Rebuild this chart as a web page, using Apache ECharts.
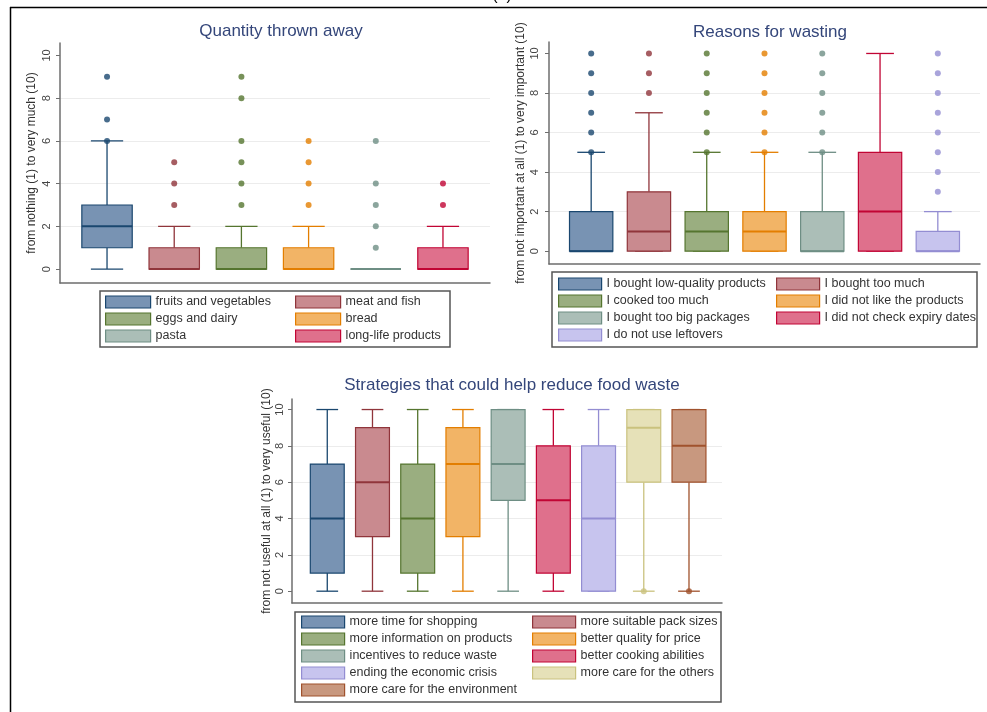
<!DOCTYPE html>
<html>
<head>
<meta charset="utf-8">
<script src="https://cdn.jsdelivr.net/npm/echarts@6/dist/echarts.min.js"></script>
<style>
html,body{margin:0;padding:0;background:#fff;}
#main{width:987px;height:712px;}
</style>
</head>
<body>
<div id="main"></div>
<script>
// ---------- DATA ----------
const yTicks = [0, 2, 4, 6, 8, 10];
const panelLabel = '(a)';

const qtyTitle = 'Quantity thrown away';
const qtyAxisName = 'from nothing (1) to very much (10)';
const qtyCategories = ['fruits and vegetables', 'meat and fish', 'eggs and dairy', 'bread', 'pasta', 'long-life products'];
// [min, Q1, median, Q3, max]
const qtyBoxStats = [[0,1,2,3,6],[0,0,0,1,2],[0,0,0,1,2],[0,0,0,1,2],[0,0,0,0,0],[0,0,0,1,2]];
// [category index, value]
const qtyOutliers = [[0,6],[0,7],[0,9],[1,3],[1,4],[1,5],[2,3],[2,4],[2,5],[2,6],[2,8],[2,9],
  [3,3],[3,4],[3,5],[3,6],[4,1],[4,2],[4,3],[4,4],[4,6],[5,3],[5,4]];

const reasonTitle = 'Reasons for wasting';
const reasonAxisName = 'from not important at all (1) to very important (10)';
const reasonCategories = ['I bought low-quality products', 'I bought too much', 'I cooked too much',
  'I did not like the products', 'I bought too big packages', 'I did not check expiry dates', 'I do not use leftovers'];
const reasonBoxStats = [[0,0,0,2,5],[0,0,1,3,7],[0,0,1,2,5],[0,0,1,2,5],[0,0,0,2,5],[0,0,2,5,10],[0,0,0,1,2]];
const reasonOutliers = [[0,5],[0,6],[0,7],[0,8],[0,9],[0,10],[1,8],[1,9],[1,10],
  [2,5],[2,6],[2,7],[2,8],[2,9],[2,10],[3,5],[3,6],[3,7],[3,8],[3,9],[3,10],
  [4,5],[4,6],[4,7],[4,8],[4,9],[4,10],[6,3],[6,4],[6,5],[6,6],[6,7],[6,8],[6,9],[6,10]];

const strategyTitle = 'Strategies that could help reduce food waste';
const strategyAxisName = 'from not useful at all (1) to very useful (10)';
const strategyCategories = ['more time for shopping', 'more suitable pack sizes', 'more information on products',
  'better quality for price', 'incentives to reduce waste', 'better cooking abilities', 'ending the economic crisis',
  'more care for the others', 'more care for the environment'];
const strategyBoxStats = [[0,1,4,7,10],[0,3,6,9,10],[0,1,4,7,10],[0,3,7,9,10],[0,5,7,10,10],[0,1,5,8,10],
  [0,0,4,8,10],[0,6,9,10,10],[0,6,8,10,10]];
const strategyOutliers = [[7,0],[8,0]];

// ---------- STYLE ----------
const strokeColors = ['#1a476f','#90353b','#55752f','#e37e00','#6e8e84','#c10534','#938dd2','#cac27e','#a0522d'];
const fillColors   = ['#7893b3','#c98a8f','#9aae80','#f2b466','#abbeb7','#df708c','#c7c4ee','#e6e1b8','#c8987f'];
const FONT = '"Liberation Sans", Arial, Helvetica, sans-serif';

const panels = [
  { title: qtyTitle, titleX: 281, titleY: 31, axisName: qtyAxisName, cats: qtyCategories, stats: qtyBoxStats, out: qtyOutliers,
    grid: {left: 60, top: 43, width: 430, height: 240}, xRange: [-0.7, 5.7], nameGap: 22, labelMargin: 8,
    legendCols: [105, 295], legendTop: 295, iconW: 45, frame: [100, 291, 350, 56] },
  { title: reasonTitle, titleX: 770, titleY: 32, axisName: reasonAxisName, cats: reasonCategories, stats: reasonBoxStats, out: reasonOutliers,
    grid: {left: 549, top: 42, width: 431, height: 222}, xRange: [-0.73, 6.73], nameGap: 22, labelMargin: 9,
    legendCols: [558, 776], legendTop: 277, iconW: 43, frame: [552, 272, 425, 75] },
  { title: strategyTitle, titleX: 512, titleY: 385, axisName: strategyAxisName, cats: strategyCategories, stats: strategyBoxStats, out: strategyOutliers,
    grid: {left: 292, top: 399, width: 430, height: 204}, xRange: [-0.78, 8.73], nameGap: 19, labelMargin: 7,
    legendCols: [301, 532], legendTop: 615, iconW: 43, frame: [295, 612, 426, 90] }
];

function makeRender(stroke, fill) {
  const boxRatio = 0.75, capRatio = 0.64;
  return function (params, api) {
    const x = api.value(0);
    const cMin = api.coord([x, api.value(1)]);
    const cQ1 = api.coord([x, api.value(2)]);
    const cMed = api.coord([x, api.value(3)]);
    const cQ3 = api.coord([x, api.value(4)]);
    const cMax = api.coord([x, api.value(5)]);
    const unit = api.size([1, 0])[0];
    const bw = unit * boxRatio, cw = bw * capRatio, cx = cMin[0];
    const ls = {stroke: stroke, lineWidth: 1.3};
    return {type: 'group', children: [
      {type: 'line', shape: {x1: cx, y1: cMax[1], x2: cx, y2: cQ3[1]}, style: ls},
      {type: 'line', shape: {x1: cx, y1: cQ1[1], x2: cx, y2: cMin[1]}, style: ls},
      {type: 'line', shape: {x1: cx - cw/2, y1: cMax[1], x2: cx + cw/2, y2: cMax[1]}, style: ls},
      {type: 'line', shape: {x1: cx - cw/2, y1: cMin[1], x2: cx + cw/2, y2: cMin[1]}, style: ls},
      {type: 'rect', shape: {x: cx - bw/2, y: cQ3[1], width: bw, height: cQ1[1] - cQ3[1]},
        style: {fill: fill, stroke: stroke, lineWidth: 1.2, opacity: 1}},
      {type: 'line', shape: {x1: cx - bw/2, y1: cMed[1], x2: cx + bw/2, y2: cMed[1]}, style: {stroke: stroke, lineWidth: 2}}
    ]};
  };
}

const grids = [], xAxes = [], yAxes = [], series = [], legends = [], graphics = [];

panels.forEach(function (p, pi) {
  grids.push(Object.assign({containLabel: false}, p.grid));
  xAxes.push({
    type: 'value', gridIndex: pi, min: p.xRange[0], max: p.xRange[1],
    axisLine: {show: true, onZero: false, lineStyle: {color: '#6e6e6e', width: 1.5}},
    axisTick: {show: false}, axisLabel: {show: false}, splitLine: {show: false}
  });
  yAxes.push({
    type: 'value', gridIndex: pi, min: -0.65, max: 10.58, splitNumber: 5,
    name: p.axisName, nameLocation: 'middle', nameGap: p.nameGap,
    nameTextStyle: {fontFamily: FONT, fontSize: 12, color: '#333'},
    axisLine: {show: true, onZero: false, lineStyle: {color: '#6e6e6e', width: 1.5}},
    axisTick: {show: true, length: 4, customValues: yTicks, lineStyle: {color: '#6e6e6e'}},
    axisLabel: {show: true, rotate: 90, margin: p.labelMargin, customValues: yTicks,
      fontFamily: FONT, fontSize: 11, color: '#444'},
    splitLine: {show: true, showMinLine: false, showMaxLine: false, lineStyle: {color: '#ececec', width: 1}}
  });
  p.cats.forEach(function (name, i) {
    series.push({
      type: 'custom', name: name, xAxisIndex: pi, yAxisIndex: pi,
      renderItem: makeRender(strokeColors[i], fillColors[i]),
      itemStyle: {color: fillColors[i], borderColor: strokeColors[i], borderWidth: 1.2},
      encode: {x: 0, y: [1, 2, 3, 4, 5]},
      data: [[i].concat(p.stats[i])],
      z: 2
    });
  });
  series.push({
    type: 'scatter', xAxisIndex: pi, yAxisIndex: pi, symbol: 'circle', symbolSize: 6, z: 4,
    data: p.out.map(function (o) { return {value: [o[0], o[1]], itemStyle: {color: strokeColors[o[0]]}}; })
  });
  [0, 1].forEach(function (col) {
    const items = [];
    p.cats.forEach(function (name, i) {
      if (i % 2 === col) items.push({name: name, itemStyle: {color: fillColors[i], borderColor: strokeColors[i], borderWidth: 1.2}});
    });
    legends.push({
      orient: 'vertical', left: p.legendCols[col], top: p.legendTop, padding: 0,
      itemWidth: p.iconW, itemHeight: 12, itemGap: 3, icon: 'rect', selectedMode: false,
      textStyle: {fontFamily: FONT, fontSize: 12.5, color: '#333', lineHeight: 14},
      data: items
    });
  });
  graphics.push({type: 'text', x: p.titleX, y: p.titleY, silent: true,
    style: {text: p.title, font: '17px ' + FONT, fill: '#34467a', textAlign: 'center', textVerticalAlign: 'middle'}});
  graphics.push({type: 'rect', silent: true, z: -1,
    shape: {x: p.frame[0], y: p.frame[1], width: p.frame[2], height: p.frame[3]},
    style: {fill: '#fff', stroke: '#555', lineWidth: 1.5}});
});

graphics.push({type: 'line', silent: true, shape: {x1: 10, y1: 7.5, x2: 987, y2: 7.5}, style: {stroke: '#000', lineWidth: 1.5}});
graphics.push({type: 'line', silent: true, shape: {x1: 10.5, y1: 7, x2: 10.5, y2: 712}, style: {stroke: '#000', lineWidth: 1.5}});
graphics.push({type: 'text', x: 502, y: 4, silent: true,
  style: {text: panelLabel, font: '16px ' + FONT, fill: '#000', textAlign: 'center', textVerticalAlign: 'bottom'}});

const chart = echarts.init(document.getElementById('main'), null, {renderer: 'canvas'});
chart.setOption({
  animation: false,
  backgroundColor: '#fff',
  grid: grids, xAxis: xAxes, yAxis: yAxes,
  legend: legends,
  graphic: {elements: graphics},
  series: series
});
</script>
</body>
</html>
